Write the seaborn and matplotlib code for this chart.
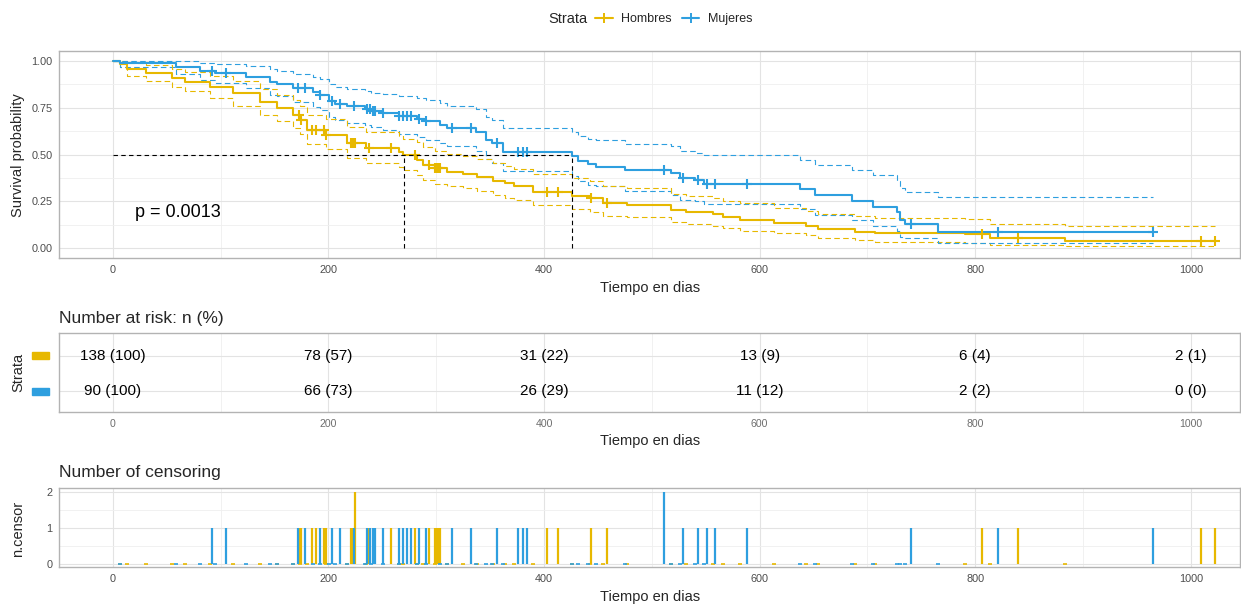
import numpy as np
import pandas as pd
import matplotlib
matplotlib.use("Agg")
import matplotlib.pyplot as plt
import matplotlib.transforms as mtransforms
from matplotlib.lines import Line2D
from matplotlib.patches import Rectangle
from matplotlib.ticker import MultipleLocator, FormatStrFormatter
import seaborn as sns

# ======================================================
# DATA
# ======================================================
STRATA = ["Hombres", "Mujeres"]
COLORS = ["#E7B800", "#2E9FDF"]

# Hombres: KM step times, survival and 95% CI
H_TIME = [0, 7, 13, 31, 55, 67, 90, 112, 137, 152, 167, 174, 180, 198, 217, 235,
          266, 269, 282, 288, 299, 310, 325, 338, 353, 364, 372, 390, 426, 443,
          455, 477, 518, 532, 557, 566, 582, 613, 643, 654, 688, 707, 790, 814, 883]
H_SURV = [1.0, 0.985, 0.956, 0.933, 0.906, 0.888, 0.861, 0.826, 0.781, 0.746, 0.711,
          0.684, 0.631, 0.604, 0.56, 0.533, 0.515, 0.497, 0.471, 0.444, 0.426, 0.408,
          0.396, 0.382, 0.36, 0.346, 0.332, 0.302, 0.28, 0.266, 0.24, 0.231, 0.204,
          0.192, 0.181, 0.168, 0.151, 0.133, 0.119, 0.103, 0.089, 0.08, 0.075, 0.057, 0.041]
H_LOWER = [1.0, 0.965, 0.92, 0.89, 0.86, 0.84, 0.80, 0.76, 0.71, 0.68, 0.64, 0.61,
           0.555, 0.53, 0.48, 0.455, 0.435, 0.42, 0.39, 0.365, 0.345, 0.33, 0.32, 0.305,
           0.285, 0.27, 0.26, 0.23, 0.21, 0.195, 0.17, 0.165, 0.14, 0.13, 0.12, 0.11,
           0.095, 0.08, 0.07, 0.055, 0.045, 0.035, 0.03, 0.02, 0.01]
H_UPPER = [1.0, 1.0, 0.99, 0.975, 0.955, 0.94, 0.92, 0.89, 0.85, 0.82, 0.79, 0.76,
           0.71, 0.69, 0.645, 0.62, 0.60, 0.585, 0.565, 0.54, 0.52, 0.505, 0.49, 0.475,
           0.455, 0.44, 0.425, 0.395, 0.375, 0.36, 0.33, 0.32, 0.29, 0.28, 0.27, 0.255,
           0.24, 0.215, 0.20, 0.185, 0.175, 0.16, 0.155, 0.13, 0.12]
H_END = 1022
H_CENSOR = [173, 175, 185, 189, 196, 198, 221, 223, 225, 238, 258, 280, 293, 299,
            301, 302, 304, 403, 413, 444, 458, 806, 840, 1009, 1022]
H_CENSOR_N = [1, 1, 1, 1, 1, 1, 1, 1, 2, 1, 1, 1, 1, 1, 1, 1, 1, 1, 1, 1, 1, 1, 1, 1, 1]

# Mujeres
M_TIME = [0, 7, 59, 81, 95, 124, 146, 152, 167, 186, 192, 201, 206, 217, 234, 240,
          251, 266, 282, 291, 304, 310, 337, 346, 352, 362, 426, 432, 441, 448, 475,
          518, 526, 540, 548, 637, 651, 686, 705, 727, 730, 735, 765]
M_SURV = [1.0, 0.989, 0.966, 0.944, 0.933, 0.911, 0.888, 0.876, 0.853, 0.832, 0.82,
          0.785, 0.768, 0.757, 0.745, 0.733, 0.722, 0.705, 0.69, 0.677, 0.66, 0.643,
          0.622, 0.577, 0.56, 0.515, 0.49, 0.466, 0.447, 0.435, 0.417, 0.40, 0.373,
          0.365, 0.343, 0.314, 0.284, 0.252, 0.222, 0.192, 0.151, 0.13, 0.087]
M_LOWER = [1.0, 0.968, 0.93, 0.90, 0.88, 0.855, 0.82, 0.81, 0.78, 0.755, 0.74, 0.70,
           0.685, 0.67, 0.655, 0.645, 0.63, 0.61, 0.595, 0.58, 0.56, 0.545, 0.52, 0.475,
           0.455, 0.41, 0.385, 0.36, 0.34, 0.33, 0.305, 0.285, 0.26, 0.25, 0.235, 0.21,
           0.18, 0.15, 0.12, 0.09, 0.06, 0.053, 0.027]
M_UPPER = [1.0, 1.0, 1.0, 0.99, 0.985, 0.97, 0.955, 0.945, 0.93, 0.915, 0.905, 0.875,
           0.86, 0.85, 0.84, 0.83, 0.825, 0.81, 0.80, 0.79, 0.775, 0.76, 0.745, 0.70,
           0.685, 0.64, 0.62, 0.60, 0.585, 0.575, 0.555, 0.545, 0.52, 0.51, 0.497, 0.47,
           0.445, 0.42, 0.39, 0.36, 0.32, 0.302, 0.275]
M_END = 965
M_CENSOR = [92, 105, 172, 178, 192, 203, 211, 224, 236, 239, 241, 243, 251, 266, 269,
            273, 277, 284, 291, 315, 332, 356, 376, 381, 384, 511, 529, 543, 551, 559,
            588, 740, 821, 965]
M_CENSOR_N = [1, 1, 1, 1, 1, 1, 1, 1, 1, 1, 1, 1, 1, 1, 1, 1, 1, 1, 1, 1, 1, 1, 1, 1,
              1, 2, 1, 1, 1, 1, 1, 1, 1, 1]

MEDIANS = [270, 426]
P_TEXT = "p = 0.0013"

RISK_TIMES = [0, 200, 400, 600, 800, 1000]
H_RISK_N = [138, 78, 31, 13, 6, 2]
H_RISK_PCT = [100, 57, 22, 9, 4, 1]
M_RISK_N = [90, 66, 26, 11, 2, 0]
M_RISK_PCT = [100, 73, 29, 12, 2, 0]

GROUPS = [
    dict(name=STRATA[0], color=COLORS[0], time=H_TIME, surv=H_SURV, lower=H_LOWER,
         upper=H_UPPER, end=H_END, censor=H_CENSOR, censor_n=H_CENSOR_N,
         risk_n=H_RISK_N, risk_pct=H_RISK_PCT, row=2),
    dict(name=STRATA[1], color=COLORS[1], time=M_TIME, surv=M_SURV, lower=M_LOWER,
         upper=M_UPPER, end=M_END, censor=M_CENSOR, censor_n=M_CENSOR_N,
         risk_n=M_RISK_N, risk_pct=M_RISK_PCT, row=1),
]

# ======================================================
# STYLE & LAYOUT
# ======================================================
sns.set_theme(style="whitegrid")
plt.rcParams["font.family"] = ["Liberation Sans", "DejaVu Sans"]

W, H = 1241, 604
XLIM = (-49.5, 1045.5)
GRID_MAJ = "#E3E3E3"
GRID_MIN = "#EFEFEF"
BORDER = "#B3B3B3"


def rect(left, top, right, bottom):
    return [left / W, 1 - bottom / H, (right - left) / W, (bottom - top) / H]


def fx(px):
    return px / W


def fy(py):
    return 1 - py / H


def style_panel(ax, ticks=True):
    ax.set_facecolor("white")
    for sp in ax.spines.values():
        sp.set_visible(True)
        sp.set_color(BORDER)
        sp.set_linewidth(1.0)
    ax.set_xlim(*XLIM)
    ax.xaxis.set_major_locator(MultipleLocator(200))
    ax.xaxis.set_minor_locator(MultipleLocator(100))
    ax.grid(which="major", color=GRID_MAJ, linewidth=0.8)
    ax.grid(which="minor", color=GRID_MIN, linewidth=0.6)
    ax.set_axisbelow(True)
    ax.tick_params(which="minor", length=0)
    ax.tick_params(which="major", length=3 if ticks else 0, width=0.8, color="#333333",
                   labelsize=7.8, labelcolor="#4D4D4D", pad=2 if ticks else 5)
    ax.set_xlabel("")
    ax.set_ylabel("")


def curve_frame(key):
    rows = []
    for g in GROUPS:
        vals = g[key]
        rows.append(pd.DataFrame({"time": list(g["time"]) + [g["end"]],
                                  "value": list(vals) + [vals[-1]],
                                  "Strata": g["name"]}))
    return pd.concat(rows, ignore_index=True)


fig = plt.figure(figsize=(W / 100, H / 100), dpi=100)
ax_km = fig.add_axes(rect(59.3, 51, 1240, 258.3))
ax_risk = fig.add_axes(rect(59.3, 333.3, 1240, 412.3))
ax_cens = fig.add_axes(rect(59.3, 488.3, 1240, 567.3))

# ======================================================
# 1. SURVIVAL CURVES
# ======================================================
for key in ["lower", "upper"]:
    sns.lineplot(data=curve_frame(key), x="time", y="value", hue="Strata",
                 hue_order=STRATA, palette=COLORS, drawstyle="steps-post",
                 estimator=None, linewidth=0.8, linestyle=(0, (5, 3)),
                 legend=False, ax=ax_km)

sns.lineplot(data=curve_frame("surv"), x="time", y="value", hue="Strata",
             hue_order=STRATA, palette=COLORS, drawstyle="steps-post",
             estimator=None, linewidth=1.5, legend=False, ax=ax_km)

style_panel(ax_km)
ax_km.set_ylim(-0.053, 1.052)
ax_km.yaxis.set_major_locator(MultipleLocator(0.25))
ax_km.yaxis.set_minor_locator(MultipleLocator(0.125))
ax_km.yaxis.set_major_formatter(FormatStrFormatter("%.2f"))

for g in GROUPS:
    t = np.array(g["time"])
    s = np.array(g["surv"])
    idx = np.searchsorted(t, g["censor"], side="right") - 1
    ax_km.plot(g["censor"], s[idx], linestyle="none", marker="+", markersize=7,
               markeredgewidth=1.5, color=g["color"], zorder=3)

ax_km.hlines(0.5, 0, max(MEDIANS), colors="black", linestyles=(0, (4, 3)),
             linewidth=0.8, zorder=4)
ax_km.vlines(MEDIANS, 0, 0.5, colors="black", linestyles=(0, (4, 3)),
             linewidth=0.8, zorder=4)
ax_km.text(21, 0.193, P_TEXT, ha="left", va="center", fontsize=13, color="black")

fig.text(fx(18.5), fy(155), "Survival probability", rotation=90, ha="center",
         va="center", fontsize=10.5)
fig.text(fx(649.6), fy(288), "Tiempo en dias", ha="center", va="center", fontsize=10.5)

# legend on top
handles = [Line2D([0], [0], color=c, linewidth=1.5, marker="+", markersize=7,
                  markeredgewidth=1.4) for c in COLORS]
fig.text(fx(568), fy(19), "Strata", ha="center", va="center", fontsize=10.5)
fig.legend(handles, STRATA, loc="center left", bbox_to_anchor=(fx(595), fy(19)),
           ncol=2, frameon=False, fontsize=9, handlelength=1.4, handletextpad=0.7,
           columnspacing=0.8, borderpad=0, borderaxespad=0)

# ======================================================
# 2. NUMBER AT RISK TABLE
# ======================================================
style_panel(ax_risk, ticks=False)
ax_risk.set_ylim(0.42, 2.62)
ax_risk.set_yticks([1, 2])
ax_risk.yaxis.set_minor_locator(plt.NullLocator())
ax_risk.set_yticklabels([])
ax_risk.tick_params(axis="x", labelcolor="#6E6E6E", labelsize=7.6)

blend = mtransforms.blended_transform_factory(ax_risk.transAxes, ax_risk.transData)
for g in GROUPS:
    for t, n, p in zip(RISK_TIMES, g["risk_n"], g["risk_pct"]):
        ax_risk.text(t, g["row"], f"{n} ({p})", ha="center", va="center",
                     fontsize=11, color="black")
    ax_risk.add_patch(Rectangle((-0.0233, g["row"] - 0.095), 0.0144, 0.19,
                                transform=blend, color=g["color"], clip_on=False))

fig.text(fx(59.3), fy(318), "Number at risk: n (%)", ha="left", va="center", fontsize=12.5)
fig.text(fx(18.5), fy(372), "Strata", rotation=90, ha="center", va="center", fontsize=10.5)
fig.text(fx(649.6), fy(441), "Tiempo en dias", ha="center", va="center", fontsize=10.5)

# ======================================================
# 3. NUMBER OF CENSORING
# ======================================================
style_panel(ax_cens)
ax_cens.set_ylim(-0.105, 2.105)
ax_cens.yaxis.set_major_locator(MultipleLocator(1))
ax_cens.yaxis.set_minor_locator(MultipleLocator(0.5))
ax_cens.yaxis.set_major_formatter(FormatStrFormatter("%d"))

for g in GROUPS:
    ax_cens.vlines(g["censor"], 0, g["censor_n"], colors=g["color"], linewidth=1.6)
    ax_cens.plot(g["time"][1:], np.zeros(len(g["time"]) - 1), linestyle="none",
                 marker="_", markersize=3, markeredgewidth=1.2, color=g["color"])

fig.text(fx(59.3), fy(472), "Number of censoring", ha="left", va="center", fontsize=12.5)
fig.text(fx(18.5), fy(529), "n.censor", rotation=90, ha="center", va="center", fontsize=10.5)
fig.text(fx(649.6), fy(597), "Tiempo en dias", ha="center", va="center", fontsize=10.5)

fig.savefig("out.png", dpi=100, facecolor="white")
